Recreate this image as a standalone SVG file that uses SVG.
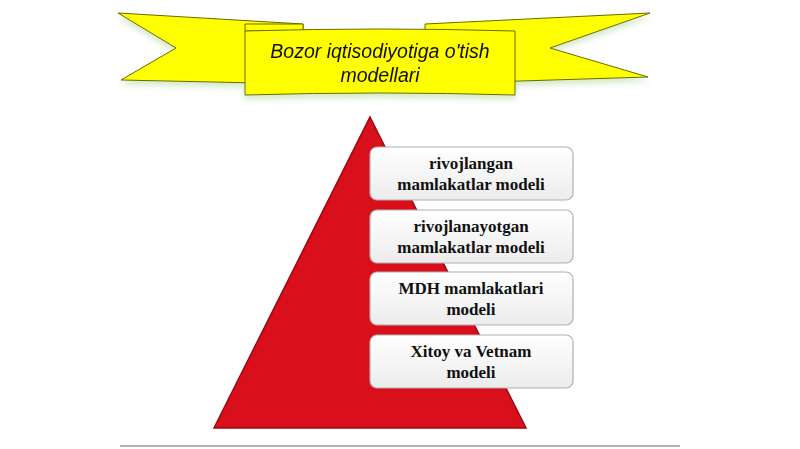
<svg xmlns="http://www.w3.org/2000/svg" width="800" height="449" viewBox="0 0 800 449">
<defs>
<linearGradient id="bx" x1="0" y1="0" x2="0" y2="1"><stop offset="0" stop-color="#ffffff"/><stop offset="1" stop-color="#ececec"/></linearGradient>
<filter id="sh" x="-10%" y="-10%" width="130%" height="140%"><feDropShadow dx="0" dy="4" stdDeviation="3" flood-color="#7fbf5f" flood-opacity="0.35"/></filter>
</defs>
<style>
.ban{fill:#ffff00;stroke:#6b6b00;stroke-width:1}
.box{fill:url(#bx);stroke:#b0b0b0;stroke-width:1.2}
.t{font-family:"Liberation Serif",serif;font-weight:bold;font-size:17px;fill:#111;text-anchor:middle}
</style>
<rect width="800" height="449" fill="#fff"/>
<g id="banner" filter="url(#sh)">
<polygon class="ban" points="118,13 303,24 303,84 121,80 176,48"/>
<polygon class="ban" points="650,13 425,24 425,84 648,77 550,48"/>
<polygon class="ban" points="245,24 303,24 303,31 245,31" fill="#d6d600"/>
<path class="ban" d="M245,31 Q380,27 515,31 L515,95 Q380,91 245,95 Z"/>
<text x="380" y="58" font-family="Liberation Sans,sans-serif" font-style="italic" font-size="19.5" text-anchor="middle" fill="#111">Bozor iqtisodiyotiga o'tish</text>
<text x="380" y="82" font-family="Liberation Sans,sans-serif" font-style="italic" font-size="19.5" text-anchor="middle" fill="#111">modellari</text>
</g>
<g id="pyramid">
<polygon points="370,117 526,428 214,428" fill="#d90f1c" stroke="#9a0a12" stroke-width="1.5"/>
</g>
<g id="n1"><rect class="box" x="370" y="147" width="203" height="53" rx="7"/><text class="t" x="471" y="169">rivojlangan</text><text class="t" x="471" y="190">mamlakatlar modeli</text></g>
<g id="n2"><rect class="box" x="370" y="210" width="203" height="53" rx="7"/><text class="t" x="471" y="232">rivojlanayotgan</text><text class="t" x="471" y="253">mamlakatlar modeli</text></g>
<g id="n3"><rect class="box" x="370" y="272" width="203" height="53" rx="7"/><text class="t" x="471" y="294">MDH mamlakatlari</text><text class="t" x="471" y="315">modeli</text></g>
<g id="n4"><rect class="box" x="370" y="335" width="203" height="53" rx="7"/><text class="t" x="471" y="357">Xitoy va Vetnam</text><text class="t" x="471" y="378">modeli</text></g>
<g id="connectors"/>
<line x1="120" y1="446" x2="680" y2="446" stroke="#999" stroke-width="1.5"/>
</svg>
